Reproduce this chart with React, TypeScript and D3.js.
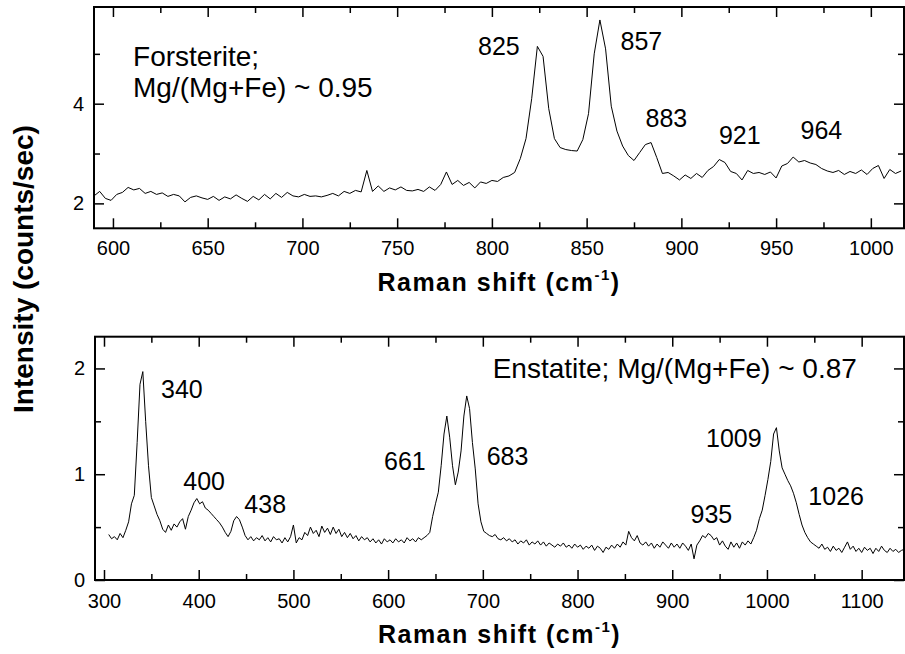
import React, { useEffect, useRef } from "react";
import * as d3 from "d3";

// Forsterite spectrum, sampled every 3 cm-1 starting at 590 cm-1
const forsteriteStart = 590;
const forsteriteStep = 3;
const forsteriteIntensity = [
  2.15, 2.24, 2.10, 2.06, 2.18, 2.22, 2.32, 2.27, 2.30, 2.20,
  2.24, 2.18, 2.21, 2.14, 2.18, 2.15, 2.03, 2.12, 2.15, 2.11,
  2.08, 2.14, 2.06, 2.13, 2.09, 2.17, 2.10, 2.04, 2.14, 2.07,
  2.18, 2.09, 2.20, 2.12, 2.22, 2.15, 2.13, 2.18, 2.14, 2.15,
  2.13, 2.16, 2.20, 2.15, 2.24, 2.20, 2.26, 2.23, 2.66, 2.24,
  2.35, 2.24, 2.31, 2.27, 2.33, 2.26, 2.25, 2.28, 2.24, 2.33,
  2.26, 2.38, 2.63, 2.38, 2.46, 2.36, 2.42, 2.31, 2.43, 2.40,
  2.46, 2.44, 2.52, 2.55, 2.62, 2.90, 3.30, 4.10, 5.15, 4.95,
  3.90, 3.30, 3.12, 3.08, 3.06, 3.05, 3.28, 3.80, 5.00, 5.68,
  5.10, 3.95, 3.45, 3.15, 2.96, 2.86, 3.02, 3.18, 3.22, 2.92,
  2.60, 2.62, 2.55, 2.47, 2.57, 2.50, 2.60, 2.52, 2.66, 2.74,
  2.88, 2.82, 2.64, 2.60, 2.47, 2.66, 2.60, 2.62, 2.58, 2.63,
  2.51, 2.75, 2.80, 2.93, 2.83, 2.86, 2.81, 2.78, 2.70, 2.65,
  2.62, 2.66, 2.58, 2.64, 2.60, 2.67, 2.58, 2.70, 2.76, 2.50,
  2.68, 2.60, 2.65,
];

// Enstatite spectrum, sampled every 3 cm-1 starting at 305 cm-1
const enstatiteStart = 305;
const enstatiteStep = 3;
const enstatiteIntensity = [
  0.43, 0.39, 0.41, 0.38, 0.44, 0.40, 0.47, 0.55, 0.72, 0.80,
  1.30, 1.85, 1.97, 1.50, 1.08, 0.78, 0.70, 0.62, 0.56, 0.48,
  0.45, 0.52, 0.47, 0.53, 0.50, 0.55, 0.58, 0.48, 0.60, 0.66,
  0.73, 0.77, 0.72, 0.74, 0.68, 0.66, 0.63, 0.60, 0.57, 0.54,
  0.50, 0.45, 0.41, 0.46, 0.56, 0.60, 0.57, 0.50, 0.42, 0.38,
  0.41, 0.37, 0.40, 0.38, 0.42, 0.37, 0.40, 0.36, 0.41, 0.38,
  0.39, 0.35, 0.40, 0.36, 0.41, 0.52, 0.35, 0.40, 0.38, 0.45,
  0.42, 0.50, 0.44, 0.47, 0.41, 0.51, 0.45, 0.49, 0.43, 0.50,
  0.44, 0.48, 0.41, 0.45, 0.40, 0.44, 0.39, 0.42, 0.37, 0.41,
  0.38, 0.40, 0.36, 0.39, 0.35, 0.38, 0.34, 0.39, 0.36, 0.38,
  0.35, 0.39, 0.36, 0.38, 0.35, 0.40, 0.37, 0.39, 0.36, 0.40,
  0.38, 0.40, 0.42, 0.45, 0.60, 0.72, 0.83, 1.08, 1.38, 1.55,
  1.35, 1.08, 0.90, 1.02, 1.22, 1.55, 1.74, 1.62, 1.30, 1.05,
  0.72, 0.55, 0.46, 0.44, 0.42, 0.41, 0.43, 0.39, 0.38, 0.40,
  0.37, 0.39, 0.36, 0.38, 0.34, 0.37, 0.35, 0.38, 0.33, 0.36,
  0.34, 0.37, 0.33, 0.36, 0.32, 0.35, 0.33, 0.31, 0.34, 0.32,
  0.35, 0.31, 0.33, 0.30, 0.34, 0.31, 0.33, 0.29, 0.32, 0.30,
  0.33, 0.28, 0.32, 0.30, 0.26, 0.31, 0.29, 0.33, 0.30, 0.34,
  0.31, 0.36, 0.33, 0.46, 0.40, 0.37, 0.42, 0.35, 0.33, 0.36,
  0.32, 0.35, 0.30, 0.34, 0.31, 0.36, 0.33, 0.30, 0.35, 0.31,
  0.34, 0.30, 0.35, 0.32, 0.28, 0.34, 0.20, 0.33, 0.37, 0.42,
  0.40, 0.44, 0.42, 0.38, 0.40, 0.33, 0.37, 0.32, 0.29, 0.36,
  0.31, 0.35, 0.30, 0.36, 0.33, 0.37, 0.34, 0.40, 0.47, 0.58,
  0.66, 0.80, 0.95, 1.12, 1.38, 1.44, 1.22, 1.06, 1.00, 0.94,
  0.89, 0.82, 0.73, 0.62, 0.52, 0.45, 0.40, 0.36, 0.34, 0.32,
  0.30, 0.34, 0.29, 0.31, 0.27, 0.32, 0.28, 0.30, 0.26, 0.31,
  0.36, 0.29, 0.32, 0.27, 0.30, 0.26, 0.31, 0.28, 0.30, 0.25,
  0.30, 0.27, 0.32, 0.28, 0.26, 0.30, 0.27, 0.29, 0.26, 0.28,
  0.29,
];

// tick values
const forsteriteMajorX = [600, 650, 700, 750, 800, 850, 900, 950, 1000];
const forsteriteMinorX = [625, 675, 725, 775, 825, 875, 925, 975];
const forsteriteMajorY = [2, 4];
const forsteriteMinorY = [3, 5];
const enstatiteMajorX = [300, 400, 500, 600, 700, 800, 900, 1000, 1100];
const enstatiteMinorX = [350, 450, 550, 650, 750, 850, 950, 1050];
const enstatiteMajorY = [0, 1, 2];
const enstatiteMinorY = [0.5, 1.5];

// peak labels: [text, wavenumber, intensity] where the label sits
const forsteriteLabels: [string, number, number][] = [
  ["825", 792.7, 4.97],
  ["857", 867.9, 5.07],
  ["883", 881.1, 3.53],
  ["921", 919.8, 3.2],
  ["964", 962.9, 3.3],
];
const enstatiteLabels: [string, number, number][] = [
  ["340", 360.2, 1.72],
  ["400", 383.7, 0.85],
  ["438", 448.2, 0.63],
  ["661", 595.7, 1.04],
  ["683", 704.1, 1.09],
  ["935", 919.3, 0.54],
  ["1009", 935.7, 1.26],
  ["1026", 1043.7, 0.71],
];

const FONT = "'Liberation Sans', Arial, Helvetica, sans-serif";

function toPoints(start: number, step: number, vals: number[]): [number, number][] {
  return vals.map((v, i) => [start + i * step, v]);
}

function drawPanel(svg: any, opts: any) {
  const { x, y, id, points, majorX, minorX, majorY, minorY, labels, xPad } = opts;
  const [x0, x1] = x.range();
  const [y0, y1] = y.range(); // y0 bottom, y1 top
  const g = svg.append("g");

  g.append("clipPath").attr("id", id)
    .append("rect")
      .attr("x", x0).attr("y", y1)
      .attr("width", x1 - x0).attr("height", y0 - y1);

  const line = d3.line<[number, number]>()
    .x(d => x(d[0]))
    .y(d => y(d[1]));

  g.append("path")
    .datum(points)
    .attr("clip-path", `url(#${id})`)
    .attr("fill", "none")
    .attr("stroke", "#000")
    .attr("stroke-width", 1)
    .attr("stroke-linejoin", "round")
    .attr("d", line);

  const styleAxis = (sel: any) => {
    sel.select(".domain").remove();
    sel.selectAll("line").attr("stroke", "#000").attr("stroke-width", 1.5);
    sel.selectAll("text")
      .attr("font-family", FONT)
      .attr("font-size", 20)
      .attr("fill", "#000");
  };
  const blank = () => "";

  // bottom
  g.append("g").attr("transform", `translate(0,${y0})`)
    .call(d3.axisBottom(x).tickValues(majorX).tickSize(-10).tickSizeOuter(0).tickPadding(xPad).tickFormat(d3.format("d")))
    .call(styleAxis);
  g.append("g").attr("transform", `translate(0,${y0})`)
    .call(d3.axisBottom(x).tickValues(minorX).tickSize(-6).tickSizeOuter(0).tickFormat(blank))
    .call(styleAxis);
  // top
  g.append("g").attr("transform", `translate(0,${y1})`)
    .call(d3.axisTop(x).tickValues(majorX).tickSize(-10).tickSizeOuter(0).tickFormat(blank))
    .call(styleAxis);
  g.append("g").attr("transform", `translate(0,${y1})`)
    .call(d3.axisTop(x).tickValues(minorX).tickSize(-6).tickSizeOuter(0).tickFormat(blank))
    .call(styleAxis);
  // left
  g.append("g").attr("transform", `translate(${x0},0)`)
    .call(d3.axisLeft(y).tickValues(majorY).tickSize(-10).tickSizeOuter(0).tickPadding(10).tickFormat(d3.format("d")))
    .call(styleAxis);
  g.append("g").attr("transform", `translate(${x0},0)`)
    .call(d3.axisLeft(y).tickValues(minorY).tickSize(-6).tickSizeOuter(0).tickFormat(blank))
    .call(styleAxis);
  // right
  g.append("g").attr("transform", `translate(${x1},0)`)
    .call(d3.axisRight(y).tickValues(majorY).tickSize(-10).tickSizeOuter(0).tickFormat(blank))
    .call(styleAxis);
  g.append("g").attr("transform", `translate(${x1},0)`)
    .call(d3.axisRight(y).tickValues(minorY).tickSize(-6).tickSizeOuter(0).tickFormat(blank))
    .call(styleAxis);

  // frame
  g.append("rect")
    .attr("x", x0).attr("y", y1)
    .attr("width", x1 - x0).attr("height", y0 - y1)
    .attr("fill", "none")
    .attr("stroke", "#000")
    .attr("stroke-width", 2);

  g.selectAll(".peak")
    .data(labels)
    .enter()
    .append("text")
      .attr("class", "peak")
      .attr("x", (d: any) => x(d[1]))
      .attr("y", (d: any) => y(d[2]))
      .attr("font-family", FONT)
      .attr("font-size", 25)
      .attr("fill", "#000")
      .text((d: any) => d[0]);

  // x axis title
  const t = g.append("text")
    .attr("x", (x0 + x1) / 2)
    .attr("y", y0 + 63)
    .attr("text-anchor", "middle")
    .attr("font-family", FONT)
    .attr("font-weight", "bold")
    .attr("font-size", 25)
    .attr("letter-spacing", 1.5)
    .attr("fill", "#000");
  t.append("tspan").text("Raman shift (cm");
  t.append("tspan").attr("dy", -11).attr("font-size", 15).text("-1");
  t.append("tspan").attr("dy", 11).text(")");

  return g;
}

export default function App() {
  const chart = useRef<SVGSVGElement>(null);

  useEffect(() => {
    const svg = d3.select(chart.current);

    const xTop = d3.scaleLinear().domain([590, 1017.5]).range([94, 904]);
    const yTop = d3.scaleLinear().domain([1.5, 5.94]).range([228.3, 7]);
    const xBot = d3.scaleLinear().domain([290.5, 1144.7]).range([95, 904]);
    const yBot = d3.scaleLinear().domain([0, 2.3]).range([580, 336.7]);

    const top = drawPanel(svg, {
      x: xTop, y: yTop, id: "clip-fo",
      points: toPoints(forsteriteStart, forsteriteStep, forsteriteIntensity),
      majorX: forsteriteMajorX, minorX: forsteriteMinorX,
      majorY: forsteriteMajorY, minorY: forsteriteMinorY,
      labels: forsteriteLabels, xPad: 13,
    });
    top.append("text")
      .attr("x", xTop(610.6)).attr("y", yTop(4.76))
      .attr("font-family", FONT).attr("font-size", 28)
      .text("Forsterite;");
    top.append("text")
      .attr("x", xTop(610.6)).attr("y", yTop(4.13))
      .attr("font-family", FONT).attr("font-size", 28)
      .text("Mg/(Mg+Fe) ~ 0.95");

    const bottom = drawPanel(svg, {
      x: xBot, y: yBot, id: "clip-en",
      points: toPoints(enstatiteStart, enstatiteStep, enstatiteIntensity),
      majorX: enstatiteMajorX, minorX: enstatiteMinorX,
      majorY: enstatiteMajorY, minorY: enstatiteMinorY,
      labels: enstatiteLabels, xPad: 14,
    });
    bottom.append("text")
      .attr("x", xBot(710.4)).attr("y", yBot(1.91))
      .attr("font-family", FONT).attr("font-size", 28)
      .text("Enstatite; Mg/(Mg+Fe) ~ 0.87");

    // shared y axis title
    svg.append("text")
      .attr("transform", "translate(33,269) rotate(-90)")
      .attr("text-anchor", "middle")
      .attr("font-family", FONT)
      .attr("font-weight", "bold")
      .attr("font-size", 28)
      .attr("fill", "#000")
      .text("Intensity (counts/sec)");

    return () => {
      svg.selectAll("*").remove();
    };
  }, []);

  return (
    <svg
      ref={chart}
      width={905}
      height={654}
      style={{ position: "absolute", left: 0, top: 0, background: "#fff", display: "block" }}
    ></svg>
  );
}
